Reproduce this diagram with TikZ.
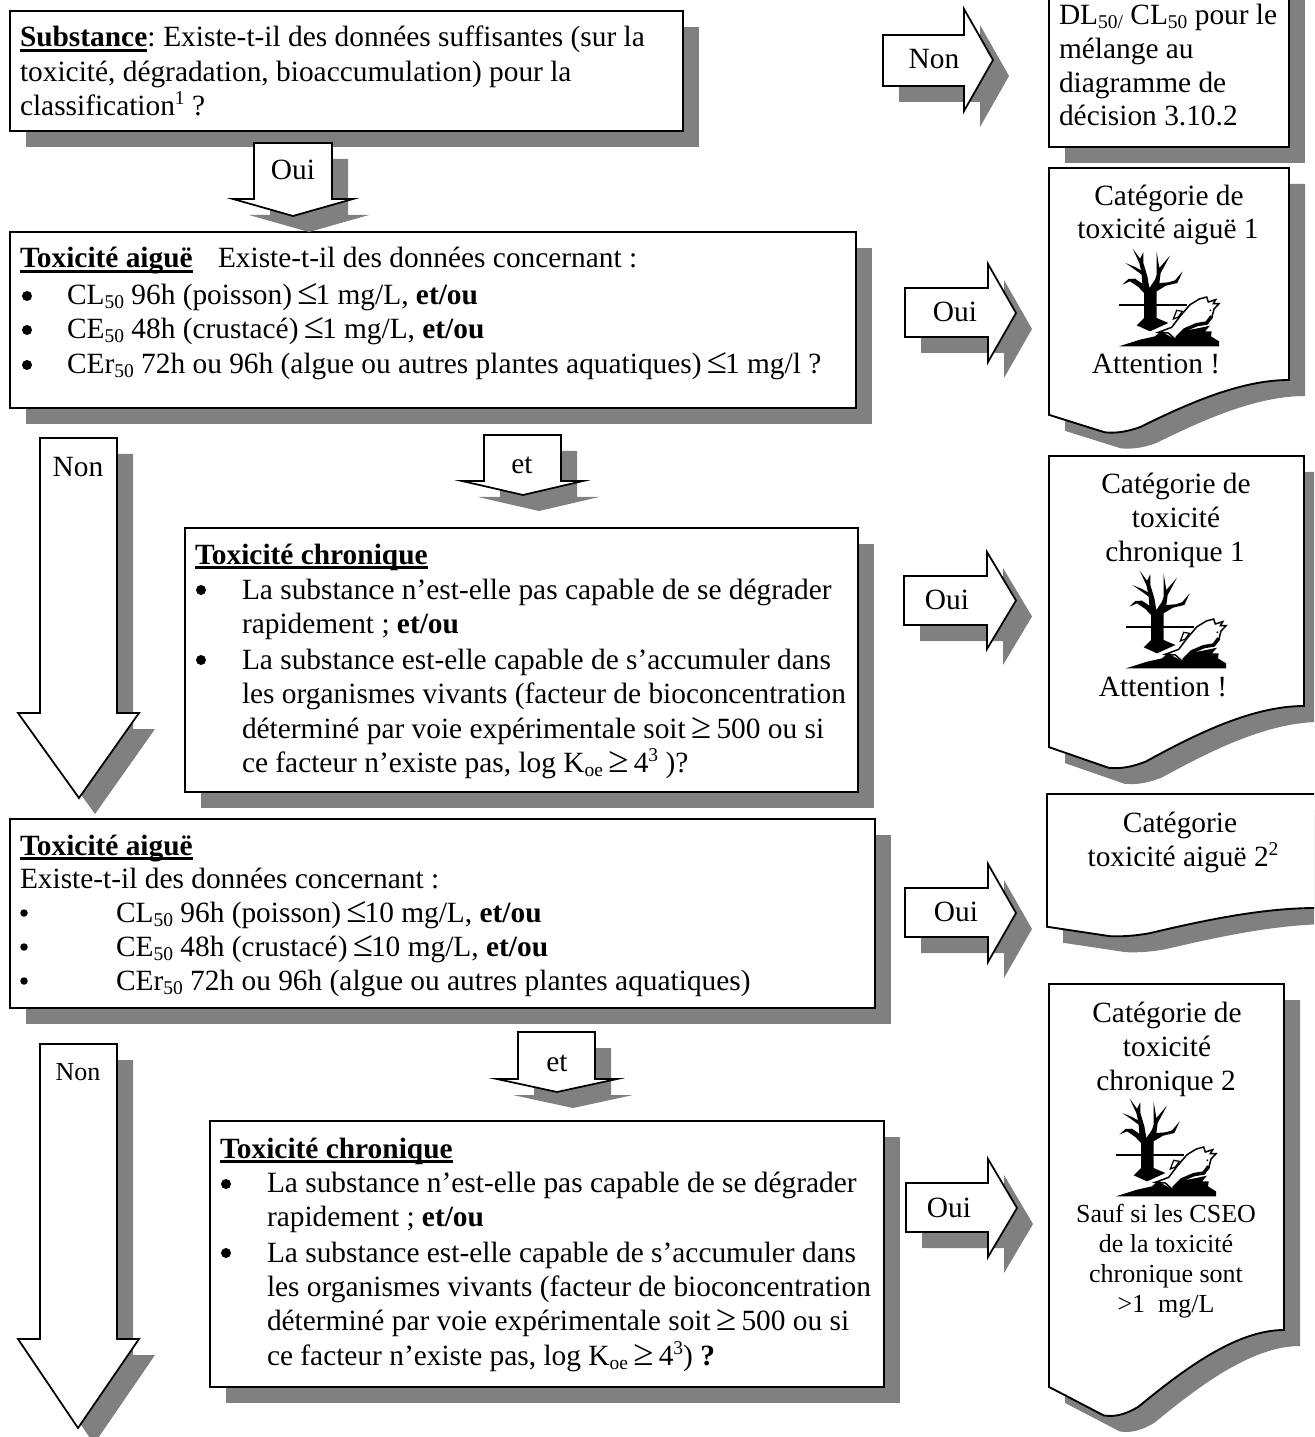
\documentclass[tikz,border=0pt]{standalone}
\usepackage{fontspec}
\usepackage{graphicx}
\setmainfont{Liberation Serif}
\definecolor{shadowgray}{HTML}{808080}
\newcommand\sbs[1]{\raisebox{-1.6pt}{\fontsize{7.8}{8}\selectfont #1}}
\newcommand\sps[1]{\raisebox{4.4pt}{\fontsize{7.8}{8}\selectfont #1}}
\newcommand\ulb[1]{\setbox0\hbox{#1}\rlap{\rule[-1.9pt]{\wd0}{1pt}}\box0}
\newcommand\leqs{\setbox0\hbox{≤}\hbox to\wd0{\hss\scalebox{1.25}{≤}\hss}}
\newcommand\geqs{\setbox0\hbox{≥}\hbox to\wd0{\hss\scalebox{1.25}{≥}\hss}}
\tikzset{
  x=0.4pt,y=-0.4pt,
  shadowfill/.style={fill=shadowgray,draw=none},
  outline/.style={draw=black,fill=white,line width=0.75pt,line join=miter,miter limit=10},
  arrowline/.style={draw=black,fill=white,line width=0.7pt,line join=miter,miter limit=10},
  txt/.style={inner sep=0pt,outer sep=0pt,anchor=base west,font=\fontsize{11.75}{14}\selectfont},
  ctr/.style={inner sep=0pt,outer sep=0pt,anchor=base,font=\fontsize{11.75}{14}\selectfont},
  ctrsmall/.style={inner sep=0pt,outer sep=0pt,anchor=base,font=\fontsize{10.4}{12}\selectfont},
  bigdot/.style={circle,fill=black,draw=none,inner sep=0pt,minimum size=4pt},
  smalldot/.style={circle,fill=black,draw=none,inner sep=0pt,minimum size=3pt},
}
% rectangle with shadow: name, x0,y0,x1,y1
\newcommand\boxshape[5]{%
  \fill[shadowfill] (#2+16,#3+16) rectangle (#4+16,#5+16);
  \path[outline] (#2,#3) coordinate (#1nw) rectangle (#4,#5) coordinate (#1se);
}
% document shape: name, L,T,R,B (B = y of lower right corner)
\newcommand\docoutline[4]{%
  (#1,#2) -- (#3,#2) -- (#3,#4)
  .. controls ({#3-.2*\dw},#4) and ({#3-.42*\dw},{#4+.11*\dh}) .. ({#3-.62*\dw},{#4+.222*\dh})
  .. controls ({#3-.69*\dw},{#4+.25*\dh}) and ({#3-.73*\dw},{#4+.25*\dh}) .. ({#3-.767*\dw},{#4+.247*\dh})
  -- (#1,{#4+.1645*\dh}) -- cycle}
\newcommand\docshape[5]{%
  \pgfmathsetmacro\dw{#4-#2}%
  \pgfmathsetmacro\dh{#5-#3}%
  \fill[shadowfill,shift={(16,16)}] \docoutline{#2}{#3}{#4}{#5};
  \path[outline] \docoutline{#2}{#3}{#4}{#5};
  \coordinate (#1nw) at (#2,#3);
}
% block arrow pointing right: x0, top, bottom, headx, headtop, headbottom, tip
\newcommand\rightarrowshape[7]{%
  \pgfmathsetmacro\amid{(#5+#6)/2}%
  \fill[shadowfill,shift={(16,16)}] (#1,#2) -- (#4,#2) -- (#4,#5) -- (#7,\amid) -- (#4,#6) -- (#4,#3) -- (#1,#3) -- cycle;
  \path[arrowline] (#1,#2) -- (#4,#2) -- (#4,#5) -- (#7,\amid) -- (#4,#6) -- (#4,#3) -- (#1,#3) -- cycle;
}
% block arrow pointing down: xl, xr, top, heady, wingl, wingr, tipx, tipy
\newcommand\downarrowshape[8]{%
  \fill[shadowfill,shift={(16,16)}] (#1,#3) -- (#2,#3) -- (#2,#4) -- (#6,#4) -- (#7,#8) -- (#5,#4) -- (#1,#4) -- cycle;
  \path[arrowline] (#1,#3) -- (#2,#3) -- (#2,#4) -- (#6,#4) -- (#7,#8) -- (#5,#4) -- (#1,#4) -- cycle;
}
% environmental pictogram, upper-left corner at x,y
\newcommand\pictogram[2]{%
  \begin{scope}[shift={(#1,#2)},scale=1/3,shift={(-237,-265)}]
    \fill[black] (312,475) -- (312,400) -- (295,382) -- (270,365) -- (247,375) -- (265,358) -- (285,357) -- (307,372) -- (305,345) -- (282,328) -- (256,310) -- (285,322) -- (303,332) -- (298,310) -- (278,267) -- (300,297) -- (310,278) -- (310,310) -- (322,350) -- (328,385) -- (345,360) -- (350,345) -- (350,277) -- (358,325) -- (390,288) -- (362,340) -- (358,370) -- (385,368) -- (405,362) -- (428,335) -- (412,370) -- (378,378) -- (350,395) -- (350,475) -- (385,490) -- (330,515) -- (290,497) -- cycle;
    \fill[black] (237,432) rectangle (440,438);
    \fill[black] (237,560) -- (300,540) -- (345,530) -- (362,515) -- (405,538) -- (440,512) -- (478,505) -- (510,498) -- (495,515) -- (515,515) -- (513,530) -- (537,545) -- (537,560) -- cycle;
    \path[draw=black,fill=white,line width=0.6pt] (355,518) -- (395,503) -- (420,470) -- (450,435) -- (478,418) -- (500,412) -- (505,427) -- (527,420) -- (520,432) -- (537,432) -- (522,448) -- (515,475) -- (500,490) -- (470,495) -- (435,510) -- (405,538) -- (385,520) -- cycle;
    \path[draw=black,fill=white,line width=0.5pt] (400,478) -- (410,452) -- (427,455) -- (415,472) -- cycle;
    \draw[black,line width=1.4pt] (515,470) -- (500,490) -- (470,495) -- (435,510) -- (410,535);
    \fill[black] (511,452) circle (3);
  \end{scope}
}
\begin{document}
\begin{tikzpicture}
\path[use as bounding box,clip] (0,0) rectangle (1314,1437);
\fill[white] (0,0) rectangle (1314,1437);

% boxes
\boxshape{sub}{10}{11}{683}{131}
\boxshape{dl}{1049}{-30}{1289}{147}
\boxshape{aigA}{10}{232}{856}{408}
\boxshape{chrA}{185}{528}{858}{792}
\boxshape{aigB}{10}{819}{875}{1008}
\boxshape{chrB}{210}{1121}{884}{1387}

% document shapes
\docshape{catA}{1049}{168}{1289}{380}
\docshape{catB}{1049}{456}{1304}{706}
\docshape{catC}{1047}{794}{1316}{908}
\docshape{catD}{1049}{984}{1284}{1330}

% block arrows
\rightarrowshape{883}{35}{86}{964}{9}{111}{993}
\rightarrowshape{905}{288}{337}{988}{264}{362}{1016}
\rightarrowshape{904}{576}{625}{987}{552}{649}{1016}
\rightarrowshape{905}{888}{937}{988}{864}{962}{1016}
\rightarrowshape{906}{1183}{1232}{988}{1159}{1257}{1017}
\downarrowshape{254}{332}{143}{199}{233}{353}{293}{216}
\downarrowshape{484}{561}{435}{481}{462}{583}{523}{495}
\downarrowshape{518}{595}{1032}{1079}{497}{617}{557}{1092}
\downarrowshape{40}{117}{438}{713}{18}{139}{79}{798}
\downarrowshape{40}{117}{1044}{1339}{18}{139}{78}{1428}

% arrow labels
\node[ctr] (lNonA) at (934,69) {Non};
\node[ctr] (lOuiA) at (293,180) {Oui};
\node[ctr] (lOuiB) at (955,322) {Oui};
\node[ctr] (lEtA) at (522,474) {et};
\node[ctr] (lNonB) at (78,477) {Non};
\node[ctr] (lOuiC) at (947,609) {Oui};
\node[ctr] (lOuiD) at (956,921) {Oui};
\node[ctr] (lEtB) at (557,1071) {et};
\node[ctrsmall] (lNonC) at (78,1080) {Non};
\node[ctr] (lOuiE) at (949,1217) {Oui};

% substance box
\node[txt] (s1) at (20,47) {\ulb{\textbf{Substance}}:\kern-0.8pt{} Existe-t-il des données suffisantes (sur la};
\node[txt] (s2) at (20,82) {toxicité, dégradation, bioaccumulation) pour la};
\node[txt] (s3) at (20,116) {classification\sps{1} ?};

% DL box
\node[txt] (d1) at (1059,25) {DL\sbs{50/} CL\sbs{50} pour le};
\node[txt] (d2) at (1059,59) {mélange au};
\node[txt] (d3) at (1059,93) {diagramme de};
\node[txt] (d4) at (1059,126) {décision 3.10.2};

% acute box 1
\node[txt] (a0) at (20,268) {\ulb{\textbf{Toxicité aiguë}}};
\node[txt] (a0b) at (218,268) {Existe-t-il des données concernant :};
\node[bigdot] (a1b) at (27,296) {};
\node[txt] (a1) at (67,305) {CL\sbs{50} 96h (poisson) \leqs 1 mg/L, \textbf{et/ou}};
\node[bigdot] (a2b) at (27,330) {};
\node[txt] (a2) at (67,339) {CE\sbs{50} 48h (crustacé) \leqs 1 mg/L, \textbf{et/ou}};
\node[bigdot] (a3b) at (27,365) {};
\node[txt] (a3) at (67,374) {CEr\sbs{50} 72h ou 96h (algue ou autres plantes aquatiques) \leqs 1 mg/l ?};

% chronic box 1
\node[txt] (c0) at (195,564) {\ulb{\textbf{Toxicité chronique}}};
\node[bigdot] (c1b) at (201,590) {};
\node[txt] (c1) at (242,599) {La substance n’est-elle pas capable de se dégrader};
\node[txt] (c2) at (242,633) {rapidement ; \textbf{et/ou}};
\node[bigdot] (c3b) at (201,660) {};
\node[txt] (c3) at (242,669) {La substance est-elle capable de s’accumuler dans};
\node[txt] (c4) at (242,703) {les organismes vivants (facteur de bioconcentration};
\node[txt] (c5) at (242,738) {déterminé par voie expérimentale soit \geqs\ 500 ou si};
\node[txt] (c6) at (242,772) {ce facteur n’existe pas, log K\sbs{oe} \geqs\ 4\sps{3} )?};

% acute box 2
\node[txt] (e0) at (20,855) {\ulb{\textbf{Toxicité aiguë}}};
\node[txt] (e1) at (20,888) {Existe-t-il des données concernant :};
\node[smalldot] (e2b) at (24,913) {};
\node[txt] (e2) at (116,922) {CL\sbs{50} 96h (poisson) \leqs 10 mg/L, \textbf{et/ou}};
\node[smalldot] (e3b) at (24,947) {};
\node[txt] (e3) at (116,956) {CE\sbs{50} 48h (crustacé) \leqs 10 mg/L, \textbf{et/ou}};
\node[smalldot] (e4b) at (24,981) {};
\node[txt] (e4) at (116,990) {CEr\sbs{50} 72h ou 96h (algue ou autres plantes aquatiques)};

% chronic box 2
\node[txt] (f0) at (220,1158) {\ulb{\textbf{Toxicité chronique}}};
\node[bigdot] (f1b) at (226,1184) {};
\node[txt] (f1) at (267,1192) {La substance n’est-elle pas capable de se dégrader};
\node[txt] (f2) at (267,1226) {rapidement ; \textbf{et/ou}};
\node[bigdot] (f3b) at (226,1253) {};
\node[txt] (f3) at (267,1262) {La substance est-elle capable de s’accumuler dans};
\node[txt] (f4) at (267,1296) {les organismes vivants (facteur de bioconcentration};
\node[txt] (f5) at (267,1330) {déterminé par voie expérimentale soit \geqs\ 500 ou si};
\node[txt] (f6) at (267,1365) {ce facteur n’existe pas, log K\sbs{oe} \geqs\ 4\sps{3}) \textbf{?}};

% document texts
\node[ctr] (g1) at (1169,206) {Catégorie de};
\node[ctr] (g2) at (1168,239) {toxicité aiguë 1};
\node[ctr] (g3) at (1156,374) {Attention !};
\node[ctr] (h1) at (1176,493) {Catégorie de};
\node[ctr] (h2) at (1176,527) {toxicité};
\node[ctr] (h3) at (1175,561) {chronique 1};
\node[ctr] (h4) at (1163,696) {Attention !};
\node[ctr] (i1) at (1180,832) {Catégorie};
\node[ctr] (i2) at (1183,866) {toxicité aiguë 2\sps{2}};
\node[ctr] (j1) at (1167,1022) {Catégorie de};
\node[ctr] (j2) at (1167,1056) {toxicité};
\node[ctr] (j3) at (1166,1090) {chronique 2};
\node[ctrsmall] (j4) at (1166,1222) {Sauf si les CSEO};
\node[ctrsmall] (j5) at (1166,1252) {de la toxicité};
\node[ctrsmall] (j6) at (1166,1282) {chronique sont};
\node[ctrsmall] (j7) at (1166,1312) {>1\ \ mg/L};

\pictogram{1119}{248}
\pictogram{1126}{570}
\pictogram{1116}{1098}
\end{tikzpicture}
\end{document}
